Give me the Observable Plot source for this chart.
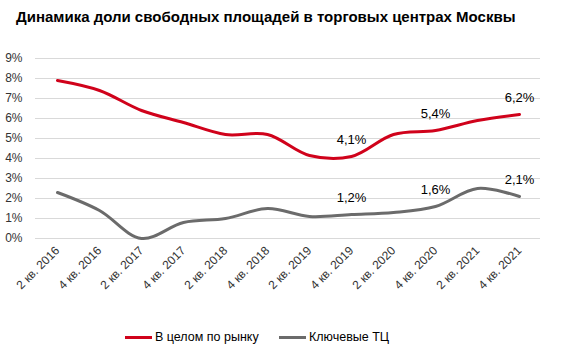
<!DOCTYPE html>
<html>
<head>
<meta charset="utf-8">
<script src="https://cdn.jsdelivr.net/npm/d3@7"></script>
<script src="https://cdn.jsdelivr.net/npm/@observablehq/plot@0.6"></script>
<style>
  html, body { margin: 0; padding: 0; background: #fff; }
  body { width: 561px; height: 352px; position: relative; overflow: hidden; font-family: "Liberation Sans", Arial, sans-serif; }
  #title { position: absolute; left: 16px; top: 8px; font-size: 15px; font-weight: bold; color: #000; white-space: nowrap; }
  #chart { position: absolute; left: 0; top: 30px; }
  #legend { position: absolute; top: 330px; left: 0; width: 561px; font-size: 12.5px; color: #000; }
  .item { position: absolute; display: flex; align-items: center; white-space: nowrap; }
  .sw { width: 27px; height: 3px; margin-right: 3px; }
</style>
</head>
<body>
<div id="title">Динамика доли свободных площадей в торговых центрах Москвы</div>
<div id="chart"></div>
<div id="legend"></div>
<script>
const quarters = ["2 кв. 2016","4 кв. 2016","2 кв. 2017","4 кв. 2017","2 кв. 2018","4 кв. 2018","2 кв. 2019","4 кв. 2019","2 кв. 2020","4 кв. 2020","2 кв. 2021","4 кв. 2021"];
const market = [7.9, 7.4, 6.4, 5.8, 5.2, 5.2, 4.15, 4.1, 5.2, 5.4, 5.9, 6.2];
const keyMalls = [2.3, 1.4, 0.0, 0.8, 1.0, 1.5, 1.1, 1.2, 1.3, 1.6, 2.5, 2.1];
const seriesNames = ["В целом по рынку", "Ключевые ТЦ"];
const seriesColors = ["#d0021b", "#6b6b6b"];
const labelledQuarters = ["4 кв. 2019", "4 кв. 2020", "4 кв. 2021"];
const yTicks = [0, 1, 2, 3, 4, 5, 6, 7, 8, 9];

const rows = [];
quarters.forEach((q, i) => {
  rows.push({q, v: market[i], s: seriesNames[0]});
  rows.push({q, v: keyMalls[i], s: seriesNames[1]});
});
const labelRows = rows.filter(d => labelledQuarters.includes(d.q));
const fmt = v => v.toFixed(1).replace(".", ",") + "%";

const chart = Plot.plot({
  width: 561,
  height: 290,
  marginLeft: 35,
  marginRight: 21,
  marginTop: 28,
  marginBottom: 82,
  style: {fontFamily: "'Liberation Sans', Arial, sans-serif", fontSize: "12px", color: "#333"},
  x: {type: "point", domain: quarters, padding: 0.5, label: null},
  y: {domain: [0, 9], label: null},
  color: {domain: seriesNames, range: seriesColors},
  marks: [
    Plot.ruleY(yTicks, {stroke: "#d9d9d9", strokeWidth: 1}),
    Plot.axisY({ticks: yTicks, tickFormat: d => d + "%", tickSize: 0, tickPadding: 13, label: null, fontSize: 12}),
    Plot.axisX({tickSize: 0, tickRotate: -45, tickPadding: 10, label: null, fontSize: 12}),
    Plot.line(rows, {x: "q", y: "v", z: "s", stroke: "s", strokeWidth: 3, curve: "catmull-rom"}),
    Plot.text(labelRows, {x: "q", y: "v", text: d => fmt(d.v), dy: -17, fontSize: 13, fill: "#000"})
  ]
});
document.getElementById("chart").appendChild(chart);

const legend = document.getElementById("legend");
const lefts = [125, 279];
seriesNames.forEach((n, i) => {
  const it = document.createElement("div");
  it.className = "item";
  it.style.left = lefts[i] + "px";
  const sw = document.createElement("div");
  sw.className = "sw";
  sw.style.background = seriesColors[i];
  const t = document.createElement("span");
  t.textContent = n;
  it.appendChild(sw);
  it.appendChild(t);
  legend.appendChild(it);
});
</script>
</body>
</html>
